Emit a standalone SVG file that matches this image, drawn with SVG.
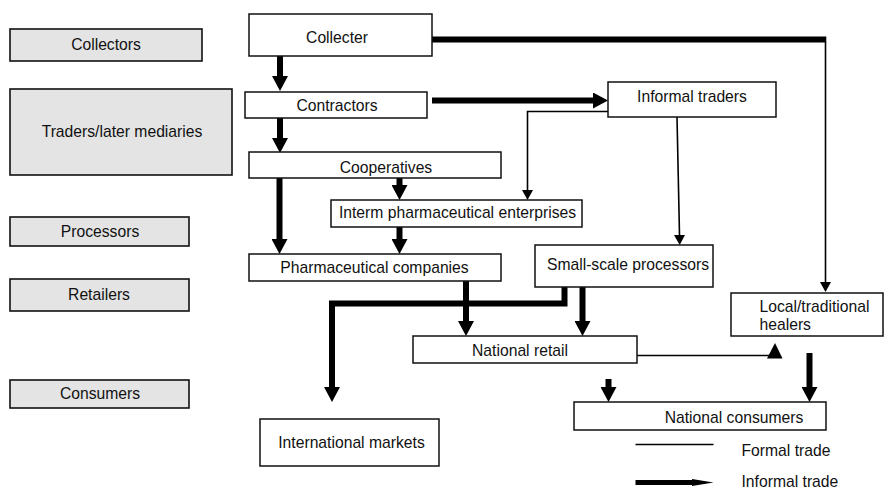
<svg xmlns="http://www.w3.org/2000/svg" width="885" height="490" viewBox="0 0 885 490">
<style>
  .lbl { fill: #e4e4e4; stroke: #111; stroke-width: 1.6; }
  .box { fill: #fff; stroke: #111; stroke-width: 1.5; }
  text { font-family: "Liberation Sans", Arial, Helvetica, sans-serif; font-size: 15.7px; fill: #111; }
  .c { text-anchor: middle; }
  .thick { fill: none; stroke: #000; stroke-width: 6; }
  .thin { fill: none; stroke: #000; stroke-width: 1.6; }
</style>
<defs>
  <marker id="big" markerUnits="userSpaceOnUse" markerWidth="16" markerHeight="16" refX="0" refY="8" orient="auto">
    <path d="M0,0 L15,8 L0,16 z" fill="#000"/>
  </marker>
  <marker id="small" markerUnits="userSpaceOnUse" markerWidth="11" markerHeight="11" refX="0" refY="5.5" orient="auto">
    <path d="M0,0 L10,5.5 L0,11 z" fill="#000"/>
  </marker>
</defs>

<g id="levels">
  <g id="lvl-collectors"><rect class="lbl" x="10" y="29" width="192" height="32"/><text class="c" x="106" y="50">Collectors</text></g>
  <g id="lvl-traders"><rect class="lbl" x="10" y="89" width="222" height="86"/><text class="c" x="122" y="137">Traders/later mediaries</text></g>
  <g id="lvl-processors"><rect class="lbl" x="10" y="217" width="179" height="29"/><text class="c" x="100" y="237">Processors</text></g>
  <g id="lvl-retailers"><rect class="lbl" x="10" y="279" width="179" height="32"/><text class="c" x="99" y="300">Retailers</text></g>
  <g id="lvl-consumers"><rect class="lbl" x="10" y="380" width="179" height="28"/><text class="c" x="100" y="399">Consumers</text></g>
</g>

<g id="connectors">
  <!-- Collecter -> Contractors -->
  <path class="thick" d="M280,56 V76" marker-end="url(#big)"/>
  <!-- Contractors -> Cooperatives -->
  <path class="thick" d="M280,118 V138" marker-end="url(#big)"/>
  <!-- Collecter -> Local/traditional healers -->
  <path class="thick" d="M432,39.5 H826.3"/>
  <path class="thin" d="M825.5,42 V282" marker-end="url(#small)"/>
  <!-- Contractors -> Informal traders -->
  <path class="thick" d="M432,100.5 H593" marker-end="url(#big)"/>
  <!-- Informal traders -> Interm -->
  <path class="thin" d="M608,111.5 H527.5 V190" marker-end="url(#small)"/>
  <!-- Informal traders -> Small-scale processors -->
  <path class="thin" d="M677,117 L679.5,235" marker-end="url(#small)"/>
  <!-- Cooperatives -> Interm -->
  <path class="thick" d="M399.5,178 V185" marker-end="url(#big)"/>
  <!-- Cooperatives -> Pharmaceutical companies -->
  <path class="thick" d="M279.5,178 V239" marker-end="url(#big)"/>
  <!-- Interm -> Pharmaceutical companies -->
  <path class="thick" d="M399.5,227 V239" marker-end="url(#big)"/>
  <!-- Pharmaceutical companies -> National retail -->
  <path class="thick" d="M466,281 V321" marker-end="url(#big)"/>
  <!-- Small-scale processors -> National retail -->
  <path class="thick" d="M582.5,287 V321" marker-end="url(#big)"/>
  <!-- Small-scale processors -> International markets -->
  <path class="thick" d="M564.5,287 V303.5 H332 V387" marker-end="url(#big)"/>
  <!-- National retail -> Local/traditional healers -->
  <path class="thin" d="M637,355.5 H770"/>
  <polygon points="767,358.5 782.5,358.5 775,343" fill="#000"/>
  <!-- Local/traditional healers -> National consumers -->
  <path class="thick" d="M809.5,353 V387" marker-end="url(#big)"/>
  <!-- National retail -> National consumers -->
  <path class="thick" d="M608.5,379 V387" marker-end="url(#big)"/>
</g>

<g id="n-collecter"><rect class="box" x="249" y="14" width="183" height="42"/><text class="c" x="337" y="43.3">Collecter</text></g>
<g id="n-contractors"><rect class="box" x="245" y="92" width="182" height="26"/><text class="c" x="337" y="110.7">Contractors</text></g>
<g id="n-informal"><rect class="box" x="608" y="82" width="168" height="35"/><text class="c" x="692" y="101.7">Informal traders</text></g>
<g id="n-cooperatives"><rect class="box" x="249" y="152" width="252" height="26"/><text class="c" x="386" y="173">Cooperatives</text></g>
<g id="n-interm"><rect class="box" x="331" y="200" width="251" height="27"/><text class="c" x="457.5" y="217.7">Interm pharmaceutical enterprises</text></g>
<g id="n-pharma"><rect class="box" x="249" y="254" width="252" height="27"/><text class="c" x="374.5" y="273">Pharmaceutical companies</text></g>
<g id="n-small"><rect class="box" x="535" y="245" width="178" height="42"/><text class="c" x="628" y="270">Small-scale processors</text></g>
<g id="n-healers"><rect class="box" x="731" y="293" width="152" height="43"/><text x="759.5" y="311.7">Local/traditional</text><text x="759.5" y="330">healers</text></g>
<g id="n-retail"><rect class="box" x="413" y="336" width="224" height="27"/><text class="c" x="520" y="356">National retail</text></g>
<g id="n-consumers"><rect class="box" x="574" y="402" width="252" height="28"/><text class="c" x="734" y="423.3">National consumers</text></g>
<g id="n-international"><rect class="box" x="260" y="419" width="179" height="47"/><text class="c" x="351.5" y="448.3">International markets</text></g>

<g id="legend">
  <line x1="635.5" y1="444.5" x2="713.5" y2="444.5" stroke="#000" stroke-width="1.6"/>
  <text x="741.5" y="456">Formal trade</text>
  <path d="M635.5,482.5 H695" stroke="#000" stroke-width="5" fill="none"/>
  <polygon points="692,479 713.5,482.5 692,486" fill="#000"/>
  <text x="741.5" y="486.5">Informal trade</text>
</g>
</svg>
